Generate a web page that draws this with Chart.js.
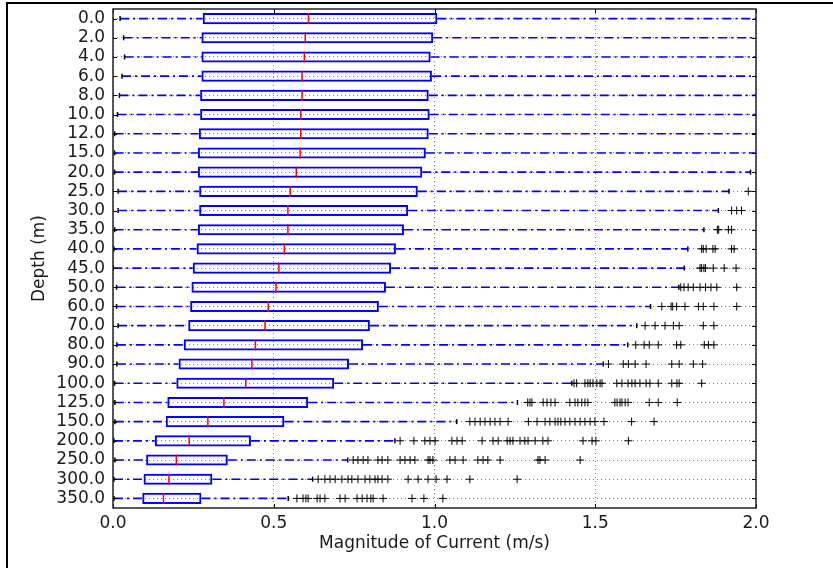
<!DOCTYPE html>
<html>
<head>
<meta charset="utf-8">
<script src="https://cdn.jsdelivr.net/npm/chart.js@4"></script>
<style>
  html, body { margin: 0; padding: 0; background: #fff; }
  #wrap { position: relative; width: 833px; height: 568px; overflow: hidden; }
  #wrap canvas { position: absolute; left: 0; top: 0; }
  #edgeL { position: absolute; left: 6px; top: 2px; width: 2px; height: 566px; background: #000; }
  #edgeT { position: absolute; left: 6px; top: 2px; width: 827px; height: 2px; background: #000; }
</style>
</head>
<body>
<div id="wrap">
  <canvas id="chart" width="833" height="568"></canvas>
  <div id="edgeL"></div>
  <div id="edgeT"></div>
</div>
<script>
/* Current magnitude by depth - horizontal box plot drawn with Chart.js. */

const depths = ["0.0", "2.0", "4.0", "6.0", "8.0", "10.0", "12.0", "15.0", "20.0", "25.0",
                "30.0", "35.0", "40.0", "45.0", "50.0", "60.0", "70.0", "80.0", "90.0", "100.0",
                "125.0", "150.0", "200.0", "250.0", "300.0", "350.0"];

const whiskerLow  = [0.022, 0.033, 0.036, 0.028, 0.020, 0.014, 0.005, 0.005, 0.005, 0.016,
                     0.016, 0.005, 0.003, 0.001, 0.011, 0.011, 0.016, 0.012, 0.012, 0.005,
                     0.006, 0.006, 0.003, 0.006, 0.003, 0.003];
const q1          = [0.279, 0.275, 0.275, 0.275, 0.271, 0.271, 0.267, 0.264, 0.264, 0.268,
                     0.268, 0.264, 0.260, 0.248, 0.244, 0.240, 0.234, 0.220, 0.204, 0.197,
                     0.169, 0.164, 0.130, 0.103, 0.095, 0.091];
const medians     = [0.608, 0.598, 0.595, 0.588, 0.588, 0.584, 0.584, 0.582, 0.570, 0.551,
                     0.544, 0.544, 0.533, 0.516, 0.507, 0.483, 0.473, 0.443, 0.432, 0.413,
                     0.345, 0.295, 0.237, 0.197, 0.174, 0.157];
const q3          = [1.009, 0.996, 0.988, 0.992, 0.982, 0.985, 0.982, 0.973, 0.962, 0.948,
                     0.918, 0.905, 0.880, 0.865, 0.849, 0.827, 0.799, 0.778, 0.734, 0.688,
                     0.607, 0.533, 0.429, 0.357, 0.309, 0.275];
const whiskerHigh = [2.10, 2.08, 2.07, 2.07, 2.06, 2.05, 2.05, 2.03, 1.983, 1.916,
                     1.883, 1.838, 1.788, 1.777, 1.760, 1.672, 1.629, 1.601, 1.525, 1.427,
                     1.258, 1.069, 0.877, 0.730, 0.621, 0.545];

// fliers, one list per depth
const outliers = [
  [], [], [], [], [], [], [], [], [],
  [1.976],
  [1.924, 1.940, 1.955],
  [1.880, 1.884, 1.914, 1.924],
  [1.831, 1.836, 1.845, 1.866, 1.873, 1.924, 1.932],
  [1.826, 1.831, 1.838, 1.843, 1.867, 1.901, 1.938],
  [1.766, 1.776, 1.789, 1.805, 1.826, 1.843, 1.860, 1.878, 1.940],
  [1.707, 1.736, 1.741, 1.753, 1.779, 1.821, 1.836, 1.869, 1.940],
  [1.655, 1.686, 1.717, 1.743, 1.761, 1.836, 1.869],
  [1.626, 1.652, 1.668, 1.696, 1.753, 1.766, 1.839, 1.852, 1.869],
  [1.541, 1.587, 1.603, 1.624, 1.658, 1.738, 1.761, 1.805, 1.834],
  [1.434, 1.442, 1.468, 1.477, 1.484, 1.493, 1.505, 1.515, 1.521, 1.567, 1.583,
   1.602, 1.614, 1.624, 1.639, 1.658, 1.670, 1.696, 1.738, 1.754, 1.761, 1.831],
  [1.290, 1.297, 1.303, 1.338, 1.350, 1.362, 1.375, 1.421, 1.437, 1.446, 1.458,
   1.468, 1.477, 1.561, 1.568, 1.577, 1.583, 1.593, 1.602, 1.668, 1.696, 1.755],
  [1.110, 1.126, 1.142, 1.157, 1.173, 1.188, 1.204, 1.229, 1.292, 1.319, 1.344, 1.359,
   1.375, 1.384, 1.393, 1.406, 1.421, 1.437, 1.453, 1.468, 1.484, 1.499, 1.527, 1.613, 1.683],
  [0.893, 0.936, 0.970, 0.986, 1.002, 1.054, 1.070, 1.086, 1.148, 1.182, 1.198, 1.226,
   1.235, 1.244, 1.266, 1.281, 1.291, 1.313, 1.337, 1.353, 1.462, 1.490, 1.502, 1.603],
  [0.747, 0.762, 0.778, 0.793, 0.824, 0.837, 0.855, 0.893, 0.908, 0.924, 0.939, 0.980,
   0.986, 0.995, 1.048, 1.064, 1.089, 1.135, 1.151, 1.166, 1.204, 1.322, 1.328, 1.344, 1.453],
  [0.638, 0.659, 0.675, 0.691, 0.712, 0.731, 0.743, 0.762, 0.784, 0.799, 0.815, 0.824,
   0.837, 0.855, 0.918, 0.949, 0.980, 1.005, 1.039, 1.110, 1.257],
  [0.572, 0.591, 0.600, 0.607, 0.635, 0.644, 0.659, 0.706, 0.722, 0.759, 0.775, 0.790,
   0.802, 0.809, 0.840, 0.930, 0.967, 1.026],
];

const xTicks = [0, 0.5, 1.0, 1.5, 2.0];

const BLUE = "#0000ff", RED = "#ff0000", INK = "#1a1a1a";
const FONT = { family: "'DejaVu Sans', sans-serif", size: 17 };

// ----- build datasets from the arrays -----
const whiskerPts = [];
depths.forEach((d, i) => {
  whiskerPts.push({ x: whiskerLow[i], y: d }, { x: q1[i], y: d }, { x: null, y: d });
  whiskerPts.push({ x: q3[i], y: d }, { x: whiskerHigh[i], y: d }, { x: null, y: d });
});
const capPts = [];
depths.forEach((d, i) => {
  capPts.push({ x: whiskerLow[i], y: d }, { x: whiskerHigh[i], y: d });
});
const medianPts = depths.map((d, i) => ({ x: medians[i], y: d }));
const flierPts = [];
depths.forEach((d, i) => outliers[i].forEach(v => flierPts.push({ x: v, y: d })));

// frame + inward tick marks, matplotlib style
const framePlugin = {
  id: "frame",
  afterDatasetsDraw(chart) {
    const { ctx, chartArea: a, scales: { x, y } } = chart;
    ctx.save();
    ctx.strokeStyle = "#000";
    ctx.lineWidth = 1;
    ctx.beginPath();
    y.ticks.forEach((t, i) => {
      const py = Math.round(y.getPixelForTick(i)) + 0.5;
      ctx.moveTo(a.left, py);  ctx.lineTo(a.left + 4, py);
      ctx.moveTo(a.right, py); ctx.lineTo(a.right - 4, py);
    });
    x.ticks.forEach((t, i) => {
      const px = Math.round(x.getPixelForTick(i)) + 0.5;
      ctx.moveTo(px, a.top);    ctx.lineTo(px, a.top + 4);
      ctx.moveTo(px, a.bottom); ctx.lineTo(px, a.bottom - 4);
    });
    ctx.stroke();
    ctx.lineWidth = 1.5;
    ctx.strokeStyle = "#222";
    ctx.strokeRect(a.left, a.top, a.right - a.left, a.bottom - a.top);
    ctx.restore();
  }
};

new Chart(document.getElementById("chart"), {
  type: "bar",
  data: {
    labels: depths,
    datasets: [
      { type: "line", data: medianPts, order: 1, showLine: false,
        pointStyle: "line", rotation: 90, pointRadius: 5.5,
        pointBorderColor: RED, pointBorderWidth: 1.5 },
      { type: "line", data: capPts, order: 2, showLine: false, clip: 0,
        pointStyle: "line", rotation: 90, pointRadius: 2.5,
        pointBorderColor: "#000", pointBorderWidth: 1.5 },
      { type: "bar", data: depths.map((d, i) => [q1[i], q3[i]]), order: 3,
        backgroundColor: "rgba(0,0,0,0)", borderColor: BLUE, borderWidth: 2,
        borderSkipped: false, categoryPercentage: 1, barPercentage: 0.58 },
      { type: "line", data: whiskerPts, order: 4, spanGaps: false, clip: 0,
        borderColor: BLUE, borderWidth: 1.6, borderDash: [9, 4, 2, 4],
        pointRadius: 0, fill: false, tension: 0 },
      { type: "line", data: flierPts, order: 5, showLine: false, clip: 0,
        pointStyle: "cross", pointRadius: 4,
        pointBorderColor: "#000", pointBorderWidth: 1 },
    ],
  },
  options: {
    indexAxis: "y",
    responsive: false,
    animation: false,
    events: [],
    layout: { padding: { left: 26, top: 9, right: 77, bottom: 11 } },
    plugins: { legend: { display: false }, tooltip: { enabled: false } },
    scales: {
      x: {
        type: "linear", min: 0, max: 2,
        afterBuildTicks: (s) => { s.ticks = xTicks.map(v => ({ value: v })); },
        afterFit: (s) => { s.height = 49; s.paddingLeft = 0; s.paddingRight = 0; },
        ticks: { padding: 5, color: INK, font: FONT, callback: v => Number(v).toFixed(1) },
        grid: { color: "rgba(0,0,0,0.5)", lineWidth: 1, drawTicks: false },
        border: { display: false, dash: [1, 3] },
        title: { display: true, text: "Magnitude of Current (m/s)", color: INK, font: FONT,
                 padding: { top: 4, bottom: 3 } },
      },
      y: {
        type: "category",
        afterFit: (s) => { s.width = 87; s.paddingTop = 0; s.paddingBottom = 0; },
        ticks: { padding: 8, color: INK, font: FONT, autoSkip: false },
        grid: { color: "rgba(0,0,0,0.5)", lineWidth: 1, drawTicks: false, offset: false },
        border: { display: false, dash: [1, 3] },
        title: { display: true, text: "Depth (m)", color: INK, font: FONT,
                 padding: { top: 3, bottom: 4 } },
      },
    },
  },
  plugins: [framePlugin],
});
</script>
</body>
</html>
